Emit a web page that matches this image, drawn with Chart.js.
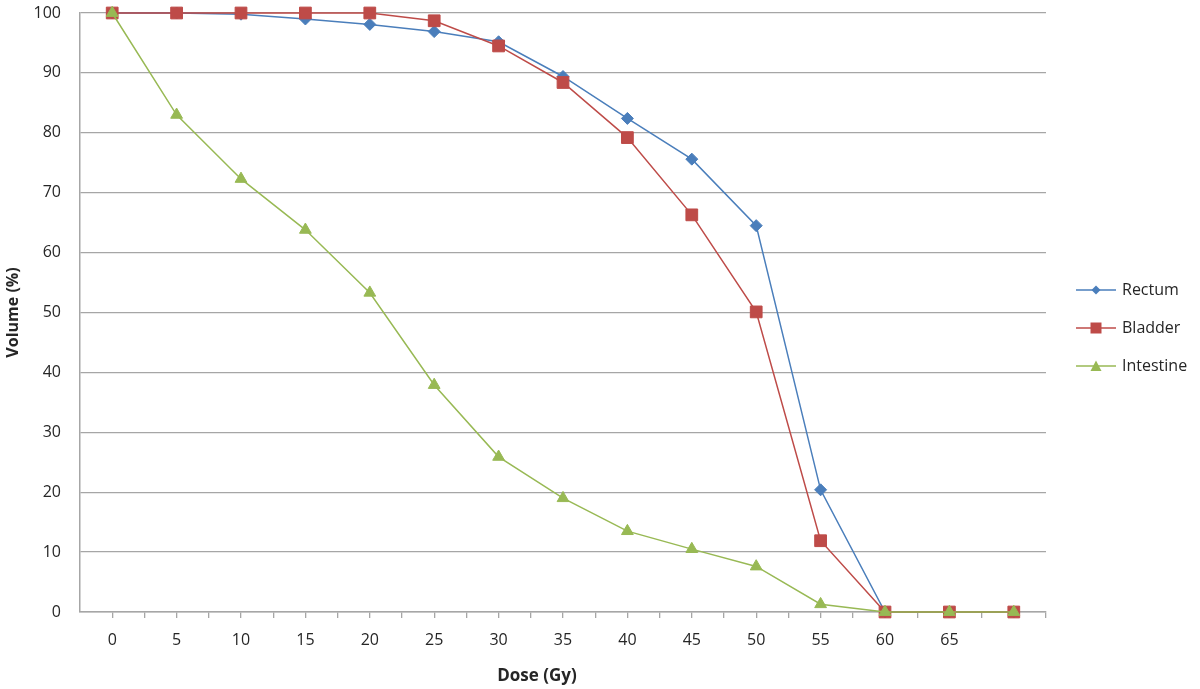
<!DOCTYPE html>
<html><head><meta charset="utf-8">
<script src="https://cdn.jsdelivr.net/npm/chart.js@4.4.0/dist/chart.umd.min.js"></script>
<style>html,body{margin:0;padding:0;background:#fff}#wrap{width:1200px;height:689px}</style>
</head><body><div id="wrap"><canvas id="c" width="1200" height="689"></canvas></div>
<script>
// ---- data ----
const doses = [0, 5, 10, 15, 20, 25, 30, 35, 40, 45, 50, 55, 60, 65, 70];
const xTickLabels = ['0', '5', '10', '15', '20', '25', '30', '35', '40', '45', '50', '55', '60', '65', ''];
const rectum = [100, 100, 99.8, 99.0, 98.1, 96.9, 95.2, 89.4, 82.4, 75.6, 64.5, 20.4, 0, 0, 0];
const bladder = [100, 100, 100, 100, 100, 98.7, 94.5, 88.4, 79.2, 66.3, 50.1, 11.9, 0, 0, 0];
const intestine = [100, 83.0, 72.3, 63.8, 53.3, 37.9, 25.9, 19.0, 13.5, 10.5, 7.6, 1.3, 0, 0, 0];
const seriesNames = ['Rectum', 'Bladder', 'Intestine'];
const yTickValues = [0, 10, 20, 30, 40, 50, 60, 70, 80, 90, 100];

// ---- styles ----
const colors = ['#4A7EBB', '#BE4B48', '#98B954'];
const GRID = '#A6A6A6';
const TXT = '#262626';
const FONT = "'Open Sans', 'DejaVu Sans', sans-serif";

function legendImg(color, shape) {
  const c = document.createElement('canvas');
  c.width = 40; c.height = 14;
  const g = c.getContext('2d');
  g.strokeStyle = color; g.lineWidth = 1.5;
  g.beginPath(); g.moveTo(0, 7); g.lineTo(40, 7); g.stroke();
  g.fillStyle = color; g.beginPath();
  if (shape === 'diamond') { g.moveTo(20, 2.5); g.lineTo(24.5, 7); g.lineTo(20, 11.5); g.lineTo(15.5, 7); g.closePath(); }
  else if (shape === 'square') { g.rect(14.5, 1.5, 11, 11); }
  else { g.moveTo(20, 1.5); g.lineTo(25.5, 12); g.lineTo(14.5, 12); g.closePath(); }
  g.fill();
  return c;
}
const legendImgs = [legendImg(colors[0], 'diamond'), legendImg(colors[1], 'square'), legendImg(colors[2], 'triangle')];

const toPts = arr => doses.map((d, i) => ({x: d, y: arr[i]}));

const legendPlacer = {
  id: 'legendPlacer',
  beforeLayout(chart) {
    const lg = chart.legend;
    if (lg && !lg._patched) {
      const f = lg.fit;
      lg.fit = function () { f.call(this); this.width = 154; };
      lg._patched = true;
    }
  },
  afterLayout(chart) {
    const lg = chart.legend;
    if (lg) {
      lg.left = 1056; lg.right = 1200;
      lg.top = 13; lg.bottom = 643;
    }
    const sx = chart.scales.x;
    if (sx && !sx._titlePatched) {
      const orig = sx.drawTitle;
      sx.drawTitle = function () {
        const l = this.left, r = this.right;
        this.left = 28; this.right = 1046;
        orig.call(this);
        this.left = l; this.right = r;
      };
      sx._titlePatched = true;
    }
  }
};

const ds = (label, arr, color, style, radius, order) => ({
  label, data: toPts(arr),
  borderColor: color, backgroundColor: color,
  pointBackgroundColor: color, pointBorderColor: color,
  borderWidth: 1.5, pointStyle: style, pointRadius: radius, pointHoverRadius: radius,
  pointBorderWidth: 1, tension: 0, order, clip: false
});

new Chart(document.getElementById('c'), {
  type: 'line',
  data: {
    datasets: [
      ds(seriesNames[0], rectum, colors[0], 'rectRot', 6, 2),
      ds(seriesNames[1], bladder, colors[1], 'rect', 8.3, 1),
      ds(seriesNames[2], intestine, colors[2], 'triangle', 6.8, 0)
    ]
  },
  options: {
    responsive: false,
    animation: false,
    devicePixelRatio: 1,
    layout: {padding: {top: 13, left: 0, right: 0, bottom: 0}},
    plugins: {
      tooltip: {enabled: false},
      legend: {
        position: 'right',
        align: 'center',
        labels: {
          usePointStyle: true,
          pointStyleWidth: 36,
          padding: 22,
          color: TXT,
          font: {family: FONT, size: 16},
          sort: (a, b) => a.datasetIndex - b.datasetIndex,
          generateLabels(chart) {
            const items = Chart.defaults.plugins.legend.labels.generateLabels(chart);
            items.forEach(it => { it.pointStyle = legendImgs[it.datasetIndex]; it.fontColor = TXT; });
            return items;
          }
        }
      }
    },
    scales: {
      x: {
        type: 'linear',
        min: -2.5, max: 72.5,
        afterFit: s => { s.height = 77; s.paddingLeft = 0; s.paddingRight = 0; },
        afterBuildTicks: s => {
          const t = [];
          for (let v = -2.5; v <= 72.5 + 1e-9; v += 2.5) t.push({value: v});
          s.ticks = t;
        },
        ticks: {
          autoSkip: false, maxRotation: 0, minRotation: 0,
          padding: 13, color: TXT,
          font: {family: FONT, size: 16},
          callback: v => { const i = doses.indexOf(v); return i >= 0 ? xTickLabels[i] : ''; }
        },
        grid: {
          drawOnChartArea: false, drawTicks: true, tickLength: 6,
          color: c => (c.tick && c.tick.value === -2.5) ? 'rgba(0,0,0,0)' : GRID,
          lineWidth: 1.3
        },
        border: {display: true, color: GRID, width: 1.5},
        title: {
          display: true, text: 'Dose (Gy)', color: TXT,
          font: {family: FONT, size: 17, weight: 'bold'},
          padding: {top: 3, bottom: 3}
        }
      },
      y: {
        min: 0, max: 100,
        afterFit: s => { s.width = 80; s.paddingTop = 0; s.paddingBottom = 0; },
        afterBuildTicks: s => { s.ticks = yTickValues.map(v => ({value: v})); },
        ticks: {
          padding: 19, color: TXT,
          font: {family: FONT, size: 16}
        },
        grid: {drawTicks: false, color: GRID, lineWidth: 1.3},
        border: {display: true, color: GRID, width: 1.5},
        title: {
          display: true, text: 'Volume (%)', color: TXT,
          font: {family: FONT, size: 16, weight: 'bold'},
          padding: {top: 4, bottom: 0}
        }
      }
    }
  },
  plugins: [legendPlacer]
});
</script>
</body></html>
